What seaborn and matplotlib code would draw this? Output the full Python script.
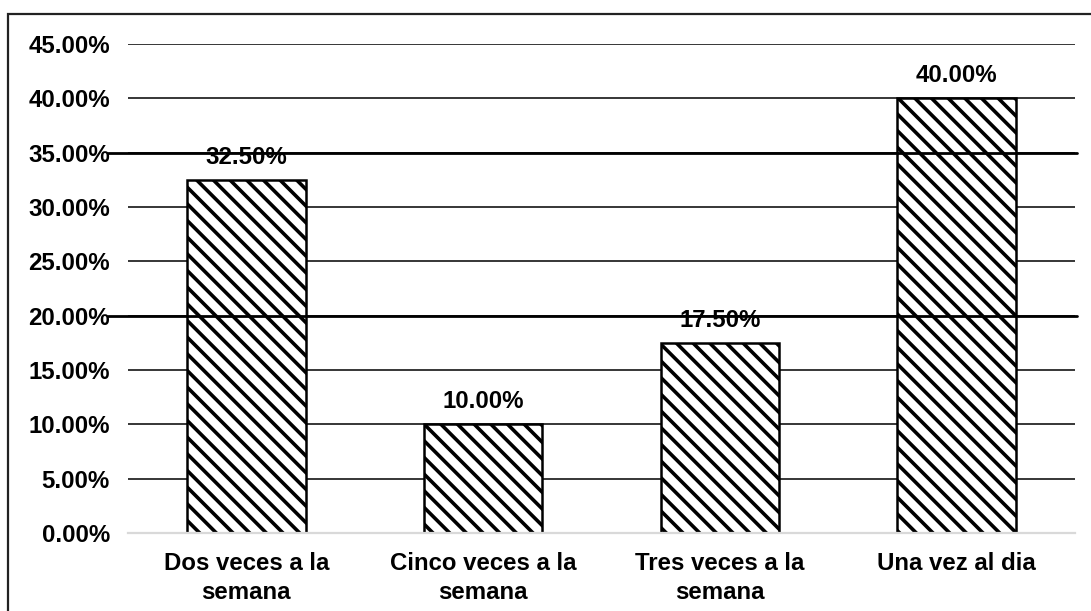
import matplotlib
matplotlib.use("Agg")
import matplotlib.pyplot as plt
from matplotlib.patches import Rectangle
from matplotlib.ticker import FuncFormatter
import seaborn as sns

# Frequency categories and their share of responses (percent)
categories = ["Dos veces a la\nsemana", "Cinco veces a la\nsemana",
              "Tres veces a la\nsemana", "Una vez al dia"]
values = [32.5, 10.0, 17.5, 40.0]
y_ticks = [0, 5, 10, 15, 20, 25, 30, 35, 40, 45]
# heavier reference rules laid over the chart
overlay_levels = [35, 20]

sns.set_theme(style="white")
plt.rcParams["font.family"] = ["Liberation Sans", "DejaVu Sans"]
plt.rcParams["font.weight"] = "bold"
plt.rcParams["hatch.color"] = "black"
plt.rcParams["hatch.linewidth"] = 2.6

fig = plt.figure(figsize=(10.91, 6.11), dpi=100)
ax = fig.add_axes([0.1173, 0.1277, 0.868, 0.8003])

sns.barplot(x=categories, y=values, color="white", edgecolor="black",
            linewidth=1.8, width=0.5, saturation=1, ax=ax)
for bar in ax.patches:
    bar.set_hatch("\\\\")
    bar.set_facecolor("white")
    bar.set_edgecolor("black")

ax.set_xlim(-0.5, len(categories) - 0.5)
ax.set_ylim(0, 45)
ax.set_yticks(y_ticks)
ax.yaxis.set_major_formatter(FuncFormatter(lambda v, _: f"{v:.2f}%"))
ax.set_axisbelow(True)
ax.yaxis.grid(True, color="black", linewidth=1.1)
ax.xaxis.grid(False)

for side in ["left", "right", "top"]:
    ax.spines[side].set_visible(False)
ax.spines["bottom"].set_color("#d9d9d9")
ax.spines["bottom"].set_linewidth(1.6)

ax.tick_params(axis="y", length=0, pad=13, labelsize=17.3)
ax.tick_params(axis="x", length=0, pad=14, labelsize=17.3)
for lbl in ax.get_xticklabels() + ax.get_yticklabels():
    lbl.set_fontweight("bold")
    lbl.set_color("black")
for lbl in ax.get_xticklabels():
    lbl.set_linespacing(1.3)
ax.set_xlabel("")
ax.set_ylabel("")

ax.bar_label(ax.containers[0], labels=[f"{v:.2f}%" for v in values],
             padding=8, fontsize=17.3, fontweight="bold", color="black")

for level in overlay_levels:
    ax.plot([-0.021, 1.002], [level, level], color="black", linewidth=2.0,
            transform=ax.get_yaxis_transform(), clip_on=False, zorder=5)

# outer frame around the chart area
fig.patches.append(Rectangle((0.0073, -0.2), 1.2, 1.177, transform=fig.transFigure,
                             fill=False, linewidth=1.6, edgecolor="#222222"))

fig.savefig("out.png", dpi=100)
